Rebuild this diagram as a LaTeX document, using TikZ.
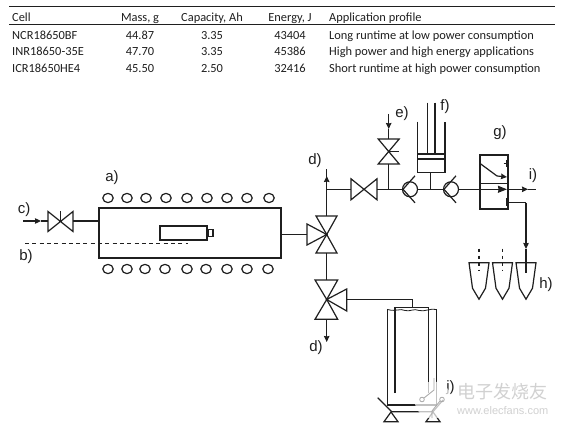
\documentclass[tikz,border=0pt]{standalone}
\usepackage{fontspec}
\setmainfont{Carlito}
\newfontfamily\labelfont{Liberation Sans}
\newfontfamily\cjkwm{Noto Sans CJK SC}
\usetikzlibrary{arrows.meta,calc}
\definecolor{ink}{gray}{0.12}
\tikzset{
  ln/.style={line width=1.2pt,draw=ink},
  tip/.style={line width=1.2pt,draw=ink,-{Stealth[length=6pt,width=5.5pt,inset=0.5pt]}},
  cell/.style={font=\fontsize{12.4}{14}\selectfont,text=ink,inner sep=0pt,anchor=base},
  lcell/.style={cell,anchor=base west},
  tag/.style={font=\labelfont\fontsize{15}{17}\selectfont,text=ink,inner sep=0pt},
  coil/.style={line width=1.2pt,draw=ink,fill=white},
  wm/.style={text=black!18,inner sep=0pt}
}
% horizontal two-way valve: centre, half width, half height
\newcommand{\hvalve}[3]{\draw[ln] ($(#1)+(-#2,-#3)$) -- ($(#1)+(#2,#3)$) -- ($(#1)+(#2,-#3)$) -- ($(#1)+(-#2,#3)$) -- cycle;}
\newcommand{\vvalve}[3]{\draw[ln] ($(#1)+(-#2,-#3)$) -- ($(#1)+(#2,-#3)$) -- ($(#1)+(-#2,#3)$) -- ($(#1)+(#2,#3)$) -- cycle;}
\newcommand{\checkv}[1]{%
  \draw[ln,fill=white] ($(#1)+(7,0)$) circle[radius=7.5];
  \draw[ln] ($(#1)+(12,-13.5)$) -- (#1) -- ($(#1)+(12,13.5)$);}
\newcommand{\sampcup}[1]{\draw[ln] ($(#1)+(-10,0)$) -- ($(#1)+(-6.5,25.5)$) -- ($(#1)+(0,36.5)$) -- ($(#1)+(6.5,25.5)$) -- ($(#1)+(10,0)$) -- cycle;}
\begin{document}
\begin{tikzpicture}[x=1pt,y=-1pt]
\useasboundingbox (0,0) rectangle (562,427);
\fill[white] (0,0) rectangle (562,427);
% table
\coordinate (tl1) at (9,6); \coordinate (tr1) at (555,6);
\coordinate (tl2) at (9,24.5); \coordinate (tr2) at (555,24.5);
\draw[line width=.7pt,draw=ink] (tl1) -- (tr1);
\draw[line width=1pt,draw=ink] (tl2) -- (tr2);
\node[lcell] (h1) at (12,21.5) {Cell};
\node[cell] (h2) at (140,21.5) {Mass, g};
\node[cell] (h3) at (212,21.5) {Capacity, Ah};
\node[cell] (h4) at (290,21.5) {Energy, J};
\node[lcell] (h5) at (329,21.5) {Application profile};
\node[lcell] (r1a) at (12,39.5) {NCR18650BF};
\node[cell] (r1b) at (140,39.5) {44.87};
\node[cell] (r1c) at (212,39.5) {3.35};
\node[cell] (r1d) at (290,39.5) {43404};
\node[lcell] (r1e) at (329,39.5) {Long runtime at low power consumption};
\node[lcell] (r2a) at (12,56) {INR18650-35E};
\node[cell] (r2b) at (140,56) {47.70};
\node[cell] (r2c) at (212,56) {3.35};
\node[cell] (r2d) at (290,56) {45386};
\node[lcell] (r2e) at (329,56) {High power and high energy applications};
\node[lcell] (r3a) at (12,73) {ICR18650HE4};
\node[cell] (r3b) at (140,73) {45.50};
\node[cell] (r3c) at (212,73) {2.50};
\node[cell] (r3d) at (290,73) {32416};
\node[lcell] (r3e) at (329,73) {Short runtime at high power consumption};
% furnace
\node[draw=ink,line width=1.2pt,minimum width=182pt,minimum height=50pt,inner sep=0pt] (furn) at (190,233) {};
\foreach \x in {108,127,146,166,187,207,227,247,269} \draw[coil] (\x,198) ellipse[x radius=5.2,y radius=4.6];
\foreach \x in {108,127,145,165,187,206,227,247,268} \draw[coil] (\x,269) ellipse[x radius=5.2,y radius=4.6];
\node[draw=ink,line width=1.7pt,minimum width=47pt,minimum height=14pt,inner sep=0pt] (batt) at (183.5,233) {};
\node[draw=ink,line width=1.5pt,minimum width=4.5pt,minimum height=7pt,inner sep=0pt,anchor=west] (cap) at (batt.east) {};
\node[tag] (la) at (112,178) {a)};
\node[tag] (lb) at (26,257) {b)};
\node[tag] (lc) at (24,210) {c)};
% gas inlet
\coordinate (cS) at (23,221); \coordinate (cA) at (41,221);
\coordinate (vc) at (60.5,221.5);
\coordinate (vcL) at (48,221); \coordinate (vcR) at (73,221);
\draw[tip] (cS) -- (cA);
\draw[ln] (cA) -- (vcL);
\hvalve{vc}{12.5}{10}
\draw[ln] (vc) -- ($(vc)+(0,-10)$);
\draw[ln] (vcR) -- (vcR -| furn.west);
% dashed thermocouple
\coordinate (bS) at (25,243.5); \coordinate (bE) at (188,243.5);
\draw[ln,dash pattern=on 4pt off 3.3pt] (bS) -- (bE);
% 3-way valve 1
\coordinate (v1) at (326.7,234.5);
\draw[ln] (v1) -- (316,216) -- (337,216) -- cycle;
\draw[ln] (v1) -- (316,253) -- (337,253) -- cycle;
\draw[ln] (v1) -- (307,224) -- (307,245) -- cycle;
\draw[ln] (furn.east |- 0,234.5) -- (307,234.5);
% top junction
\coordinate (dT) at (326.7,169); \coordinate (dA) at (326.7,181.5);
\coordinate (jn) at (326.7,189.3);
\draw[ln] (326.7,216) -- (jn) -- (dA);
\draw[tip] (dA) -- (dT |- 0,176);
\draw[ln] (dA) -- (dT);
\node[tag] (ld1) at (315,161) {d)};
% valve to check
\coordinate (v2) at (364,189.3);
\hvalve{v2}{13}{10.5}
\draw[ln] (jn) -- (351,189.3);
\coordinate (cv1) at (403,189.3);
\coordinate (cv2) at (444,189.3);
\draw[ln] (377,189.3) -- (cv1);
\checkv{cv1}
\draw[ln] (417.5,189.3) -- (cv2);
\checkv{cv2}
% valve e
\coordinate (ve) at (388.7,151.5);
\coordinate (eT) at (388.7,114); \coordinate (eA) at (388.7,129);
\vvalve{ve}{10.5}{12.5}
\draw[ln] (388.7,164) -- (388.7,189.3);
\draw[ln] (ve) -- ++(10.5,0);
\draw[tip] (eT) -- (eA);
\draw[ln] (eA) -- (388.7,139);
\node[tag] (le) at (402,114) {e)};
% piston f
\draw[ln] (417.3,121.7) -- (417.3,172.7) -- (445,172.7) -- (445,121.7);
\draw[ln] (417.3,154) -- (445,154);
\draw[ln] (417.3,159) -- (445,159);
\draw[ln] (427.7,102.7) -- (427.7,154);
\draw[ln] (435,102.7) -- (435,154);
\draw[ln] (430.7,172.7) -- (430.7,189.3);
\node[tag] (lf) at (445,107) {f)};
% selector g
\node[draw=ink,line width=1.2pt,minimum width=28pt,minimum height=54pt,inner sep=0pt] (gbox) at (494,182) {};
\draw[ln] (gbox.west |- 0,183.3) -- (gbox.east |- 0,183.3);
\draw[ln] (gbox.west |- 0,163) -- (497,176);
\draw[tip] (497,176) -- (507,177);
\draw[ln] (506.5,160) -- (506.5,167);
\draw[ln] (503.5,163.5) -- (508,163.5);
\draw[ln] (506.5,198) -- (506.5,206);
\draw[ln] (458.5,189.3) -- (gbox.west |- 0,189.3);
\draw[line width=1.2pt,draw=ink,-{Stealth[length=9pt,width=7pt,inset=0.5pt]}] (gbox.west |- 0,189.3) -- (507,189.3);
\draw[tip] (507,189.3) -- (528,189.3);
\draw[ln] (528,189.3) -- (536,189.3);
\node[tag] (lg) at (500,132.7) {g)};
\node[tag] (li) at (533,176) {i)};
% route to cups
\coordinate (p1) at (526,202.7); \coordinate (pA) at (526,249);
\draw[ln] (gbox.east |- 0,202.7) -- (p1);
\draw[tip] (p1) -- (pA);
\draw[ln] (pA) -- (526,272.7);
\coordinate (c1) at (479,262.7); \coordinate (c2) at (502.5,262.7); \coordinate (c3) at (526,262.7);
\sampcup{c1} \sampcup{c2} \sampcup{c3}
\foreach \c in {c1,c2}{
  \draw[ln,dash pattern=on 3pt off 4pt] ($(\c)+(0,-14)$) -- ($(\c)+(0,8)$);
}
\node[tag] (lh) at (546,285) {h)};
% lower valve
\draw[ln] (326.7,253) -- (326.7,280);
\coordinate (v3) at (326.7,299.5);
\draw[ln] (v3) -- (315,280) -- (337.7,280) -- cycle;
\draw[ln] (v3) -- (315,319.3) -- (337.7,319.3) -- cycle;
\draw[ln] (v3) -- (346.7,289) -- (346.7,311) -- cycle;
\coordinate (dB) at (326.7,342);
\draw[tip] (326.7,319.3) -- (dB);
\node[tag] (ld2) at (316,347.7) {d)};
% Dewar
\draw[ln] (346.7,299.5) -- (412.3,299.5) -- (412.3,307.3);
\draw[ln] (387.7,309) -- (387.7,405) -- (436.7,405) -- (436.7,309);
\draw[ln] (395,393) -- (395,307.3) -- (428.7,307.3) -- (428.7,393);
\draw[line width=.8pt,draw=ink] (387.7,309.5) .. controls (396,312) and (400,308) .. (405,310.5) .. controls (410,312) and (414,308) .. (419,310.5) .. controls (425,312) and (430,308) .. (436.7,309.5);
\draw[ln] (377.7,397.7) -- (391.7,411.7) -- (433,411.7) -- (443,400);
\draw[ln] (391,412) -- (384,421.7) -- (398,421.7) -- cycle;
\draw[ln] (433,412) -- (426,421.7) -- (440,421.7) -- cycle;
\node[tag] (lj) at (450.5,388) {j)};
% watermark
\fill[white,opacity=.72] (433,400) circle[radius=18.5];
\draw[black!35,line width=.8pt] (422,399.5) circle[radius=2.3] (442,399.5) circle[radius=2.3];
\draw[black!35,line width=.8pt] (424,398) -- (434,390) -- (434,378);
\draw[black!35,line width=.8pt] (440,401) -- (432,411) -- (432,418);
\node[wm,font=\cjkwm\fontsize{18}{20}\selectfont,anchor=west] (wm1) at (457,391.5) {电子发烧友};
\node[wm,font=\labelfont\fontsize{11}{12}\selectfont,anchor=west] (wm2) at (457,411) {www.elecfans.com};
\end{tikzpicture}
\end{document}
